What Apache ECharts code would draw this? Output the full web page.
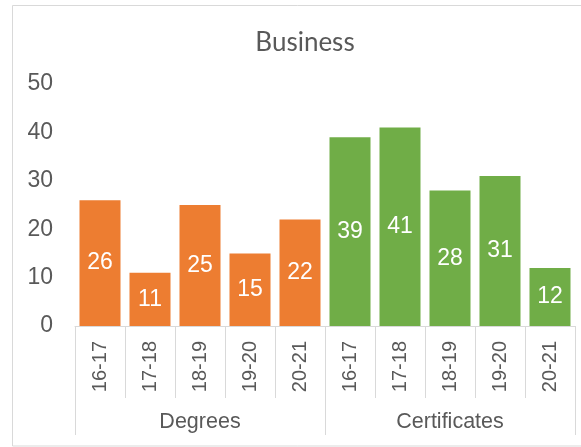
<!DOCTYPE html>
<html>
<head>
<meta charset="utf-8">
<script src="https://cdn.jsdelivr.net/npm/echarts@6/dist/echarts.min.js"></script>
<style>html,body{margin:0;padding:0;background:#fff;}#c{width:581px;height:447px;}</style>
</head>
<body>
<div id="c"></div>
<script>
const titleText = 'Business';
const years = ['16-17','17-18','18-19','19-20','20-21'];
const groups = ['Degrees','Certificates'];
const degrees = [26, 11, 25, 15, 22];
const certificates = [39, 41, 28, 31, 12];
const yTicks = [0, 10, 20, 30, 40, 50];

const categories = years.concat(years);
const degData = degrees.concat(years.map(() => null));
const certData = years.map(() => null).concat(certificates);
const gray = '#595959';
const lineCol = '#d9d9d9';
const font = 'Liberation Sans, Arial, sans-serif';

const chart = echarts.init(document.getElementById('c'), null, {renderer: 'canvas'});
chart.setOption({
  animation: false,
  backgroundColor: '#fff',
  graphic: [{
    type: 'rect', shape: {x: 12.5, y: 5.5, width: 700, height: 440.5},
    style: {fill: 'none', stroke: lineCol, lineWidth: 1}, silent: true
  }],
  title: {
    text: titleText, left: 300, top: 25, textAlign: 'center',
    textStyle: {fontFamily: 'Lato, sans-serif', fontSize: 26, fontWeight: 'normal', color: gray}
  },
  grid: {left: 75, right: 6, top: 84, bottom: 121, containLabel: false},
  xAxis: [{
    type: 'category', data: categories, position: 'bottom',
    axisLine: {show: true, lineStyle: {color: lineCol, width: 1}},
    axisTick: {show: true, interval: 0, length: 72, lineStyle: {color: lineCol}},
    axisLabel: {interval: 0, rotate: 90, margin: 15, fontFamily: font, fontSize: 20, color: gray}
  }, {
    type: 'category', data: groups, position: 'bottom', offset: 0,
    axisLine: {show: false},
    axisTick: {show: true, interval: 0, length: 109, lineStyle: {color: lineCol}},
    axisLabel: {interval: 0, margin: 85, fontFamily: font, fontSize: 21.5, color: gray}
  }],
  yAxis: {
    type: 'value', min: yTicks[0], max: yTicks[yTicks.length - 1], interval: 10,
    axisLine: {show: false}, axisTick: {show: false}, splitLine: {show: false},
    axisLabel: {margin: 22, fontFamily: font, fontSize: 23, color: gray}
  },
  series: [{
    name: groups[0], type: 'bar', stack: 's', data: degData, barCategoryGap: '18%',
    itemStyle: {color: '#ED7D31'},
    label: {show: true, position: 'inside', fontFamily: font, fontSize: 23, color: '#fff'}
  }, {
    name: groups[1], type: 'bar', stack: 's', data: certData, barCategoryGap: '18%',
    itemStyle: {color: '#70AD47'},
    label: {show: true, position: 'inside', fontFamily: font, fontSize: 23, color: '#fff'}
  }]
});
</script>
</body>
</html>
